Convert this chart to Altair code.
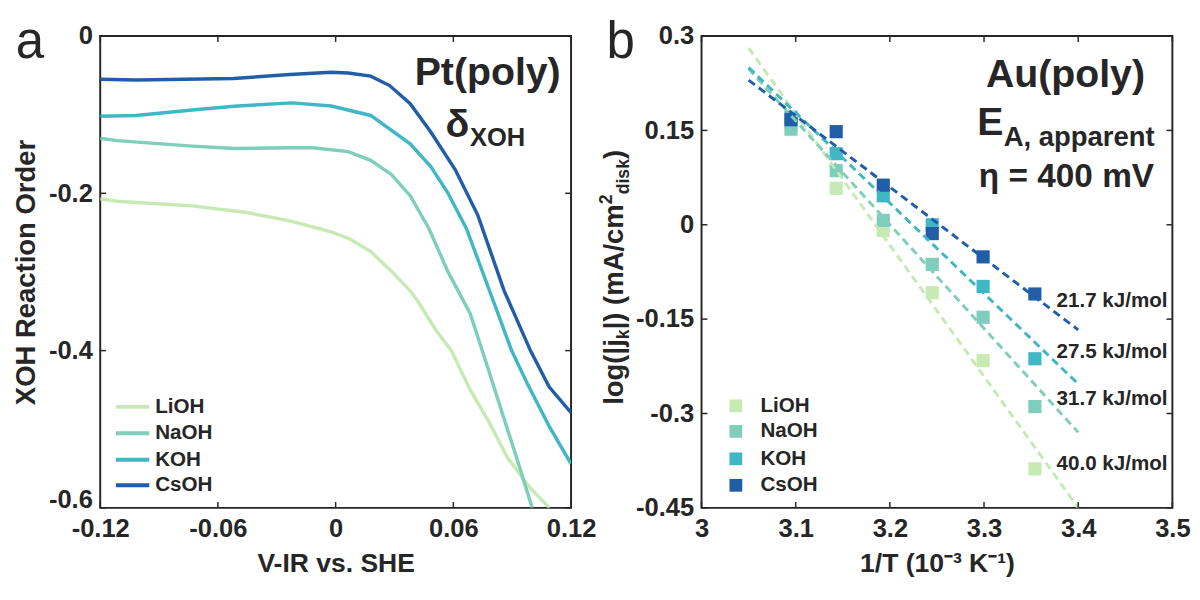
import altair as alt
import pandas as pd

FONT = "Liberation Sans"
INK = "#262626"

series = ["LiOH", "NaOH", "KOH", "CsOH"]
colors = ["#c7e9b4", "#7fcdbb", "#41b6c4", "#225ea8"]

# ---------------- Panel a: XOH reaction order on Pt(poly) ----------------
lioh_v = [-0.12, -0.1114, -0.0731, -0.0463, -0.0233, -0.0022, 0.0073, 0.0179, 0.0284, 0.038, 0.0418, 0.0514, 0.059, 0.0686, 0.0782, 0.0878, 0.0993, 0.109]
lioh_r = [-0.207, -0.210, -0.216, -0.224, -0.235, -0.249, -0.258, -0.274, -0.299, -0.324, -0.337, -0.375, -0.400, -0.450, -0.491, -0.537, -0.575, -0.600]
naoh_v = [-0.12, -0.1114, -0.0731, -0.0511, -0.0233, -0.0118, 0.0064, 0.0179, 0.0284, 0.038, 0.0476, 0.0571, 0.0686, 0.0763, 0.0859, 0.0935, 0.1002]
naoh_r = [-0.130, -0.133, -0.140, -0.143, -0.142, -0.142, -0.147, -0.158, -0.176, -0.203, -0.245, -0.299, -0.353, -0.412, -0.487, -0.546, -0.600]
koh_v = [-0.12, -0.1018, -0.0731, -0.0501, -0.0223, -0.0022, 0.0179, 0.038, 0.0485, 0.0571, 0.0667, 0.0801, 0.0897, 0.0973, 0.1088, 0.12]
koh_r = [-0.102, -0.101, -0.094, -0.089, -0.085, -0.089, -0.101, -0.137, -0.166, -0.199, -0.245, -0.335, -0.400, -0.440, -0.496, -0.544]
csoh_v = [-0.12, -0.1018, -0.052, -0.0233, -0.0022, 0.0064, 0.0179, 0.0275, 0.038, 0.0485, 0.061, 0.0725, 0.0859, 0.0993, 0.1088, 0.12]
csoh_r = [-0.055, -0.056, -0.054, -0.049, -0.046, -0.047, -0.051, -0.063, -0.086, -0.122, -0.170, -0.228, -0.324, -0.400, -0.446, -0.479]

a_xticks = [-0.12, -0.06, 0, 0.06, 0.12]
a_yticks = [-0.6, -0.4, -0.2, 0]

# ---------------- Panel b: Arrhenius plot on Au(poly) ----------------
inv_T = [3.095, 3.143, 3.193, 3.245, 3.299, 3.354]
lioh_j = [0.160, 0.058, -0.009, -0.108, -0.216, -0.388]
naoh_j = [0.152, 0.086, 0.007, -0.063, -0.147, -0.289]
koh_j = [0.171, 0.113, 0.046, 0.000, -0.098, -0.213]
csoh_j = [0.167, 0.148, 0.063, -0.014, -0.051, -0.110]

fit_x = [3.05, 3.40]
lioh_fit = [0.281, -0.450]
naoh_fit = [0.248, -0.330]
koh_fit = [0.250, -0.253]
csoh_fit = [0.230, -0.167]

ea_labels = ["21.7 kJ/mol", "27.5 kJ/mol", "31.7 kJ/mol", "40.0 kJ/mol"]
ea_x = [3.377, 3.377, 3.377, 3.377]
ea_y = [-0.121, -0.202, -0.277, -0.381]

b_xticks = [3, 3.1, 3.2, 3.3, 3.4, 3.5]
b_yticks = [-0.45, -0.3, -0.15, 0, 0.15, 0.3]

W, H = 480, 481
TICK = 6

color_enc = alt.Color("series:N", scale=alt.Scale(domain=series, range=colors), legend=None)


def frame(pairs):
    rows = []
    for name, xs, ys in pairs:
        for i, (xv, yv) in enumerate(zip(xs, ys)):
            rows.append({"series": name, "x": xv, "y": yv, "i": i})
    return pd.DataFrame(rows)


def txt(s, x, y, size, weight="bold", align="left", baseline="alphabetic", angle=0):
    return alt.Chart(pd.DataFrame({"s": [s]})).mark_text(
        font=FONT, fontSize=size, fontWeight=weight, align=align,
        baseline=baseline, angle=angle, color=INK
    ).encode(text="s:N", x=alt.value(x), y=alt.value(y))


def ticks(xticks, yticks, X, Y):
    xt = pd.DataFrame({"x": xticks})
    yt = pd.DataFrame({"y": yticks})
    rule = dict(color=INK, strokeWidth=1.5)
    return [
        alt.Chart(xt).mark_rule(**rule).encode(x=X, y=alt.value(H), y2=alt.value(H - TICK)),
        alt.Chart(xt).mark_rule(**rule).encode(x=X, y=alt.value(0), y2=alt.value(TICK)),
        alt.Chart(yt).mark_rule(**rule).encode(y=Y, x=alt.value(0), x2=alt.value(TICK)),
        alt.Chart(yt).mark_rule(**rule).encode(y=Y, x=alt.value(W), x2=alt.value(W - TICK)),
    ]


# ---- panel a
Xa = alt.X("x:Q", scale=alt.Scale(domain=[-0.12, 0.12], nice=False, zero=False),
           axis=alt.Axis(values=a_xticks, labelExpr="datum.value + ''", title="V-IR vs. SHE",
                         titlePadding=10))
Ya = alt.Y("y:Q", scale=alt.Scale(domain=[-0.6, 0], nice=False, zero=False),
           axis=alt.Axis(values=a_yticks, labelExpr="datum.value + ''", title="XOH Reaction Order",
                         titlePadding=8, titleFontSize=28,
                         labelBaseline={"condition": {"test": "datum.value < -0.5", "value": "alphabetic"},
                                        "value": "middle"}))

a_df = frame([("LiOH", lioh_v, lioh_r), ("NaOH", naoh_v, naoh_r),
              ("KOH", koh_v, koh_r), ("CsOH", csoh_v, csoh_r)])

a_lines = alt.Chart(a_df).mark_line(strokeWidth=3.5, clip=True).encode(
    x=Xa, y=Ya, color=color_enc, detail="series:N", order="i:Q")

a_layers = [a_lines] + ticks(a_xticks, a_yticks, Xa, Ya)

leg_a_y = [378, 405, 432, 458]
for k, s in enumerate(series):
    a_layers.append(alt.Chart(pd.DataFrame({"s": [s]})).mark_rule(color=colors[k], strokeWidth=4).encode(
        x=alt.value(16), x2=alt.value(50), y=alt.value(leg_a_y[k])))
    a_layers.append(txt(s, 56, leg_a_y[k], 21, baseline="middle"))

a_layers += [
    txt("Pt(poly)", 395, 50, 40, align="center"),
    txt("δ", 352, 103, 40),
    txt("XOH", 377, 112, 26),
    txt("a", -86, 22, 52, weight="normal"),
]
panel_a = alt.layer(*a_layers).properties(width=W, height=H)

# ---- panel b
Xb = alt.X("x:Q", scale=alt.Scale(domain=[3, 3.5], nice=False, zero=False),
           axis=alt.Axis(values=b_xticks, labelExpr="datum.value + ''",
                         title="1/T (10⁻³ K⁻¹)", titlePadding=10))
Yb = alt.Y("y:Q", scale=alt.Scale(domain=[-0.45, 0.3], nice=False, zero=False),
           axis=alt.Axis(values=b_yticks, labelExpr="datum.value + ''", title=None))

b_pts = frame([("LiOH", inv_T, lioh_j), ("NaOH", inv_T, naoh_j),
               ("KOH", inv_T, koh_j), ("CsOH", inv_T, csoh_j)])
b_fit = frame([("LiOH", fit_x, lioh_fit), ("NaOH", fit_x, naoh_fit),
               ("KOH", fit_x, koh_fit), ("CsOH", fit_x, csoh_fit)])
ea_df = pd.DataFrame({"x": ea_x, "y": ea_y, "t": ea_labels})

b_points = alt.Chart(b_pts).mark_square(size=180, opacity=1).encode(x=Xb, y=Yb, color=color_enc)
b_lines = alt.Chart(b_fit).mark_line(strokeWidth=3, strokeDash=[8, 5], clip=True).encode(
    x=Xb, y=Yb, color=color_enc, detail="series:N", order="i:Q")
b_ea = alt.Chart(ea_df).mark_text(font=FONT, fontSize=21, fontWeight="bold", align="left",
                                  baseline="middle", color=INK).encode(x=Xb, y=Yb, text="t:N")

b_layers = [b_points, b_lines, b_ea] + ticks(b_xticks, b_yticks, Xb, Yb)

leg_b_y = [377, 403, 431, 458]
for k, s in enumerate(series):
    b_layers.append(alt.Chart(pd.DataFrame({"s": [s]})).mark_square(size=170, opacity=1, color=colors[k]).encode(
        x=alt.value(35), y=alt.value(leg_b_y[k])))
    b_layers.append(txt(s, 60, leg_b_y[k], 21, baseline="middle"))

# rotated y title with sub/superscripts: log(|j_k|) (mA/cm^2_disk)
BIG, SMALL = 28, 18
bx = -80
segs = [("log(|j", BIG, 0, 2.391), ("k", SMALL, 6, 0.556), ("|) (mA/cm", BIG, 0, 4.558),
        ("2", SMALL, -11, 0.556), ("disk", SMALL, 6, 2.001), (")", BIG, 0, 0.333)]
total = sum(sz * em for _, sz, _, em in segs)
ypos = 246 + total / 2
for s, sz, dx, em in segs:
    b_layers.append(txt(s, bx + dx, ypos, sz, angle=270))
    ypos -= sz * em

b_layers += [
    txt("Au(poly)", 371, 52, 40, align="center"),
    txt("E", 281, 101, 40),
    txt("A, apparent", 308, 112, 28),
    txt("η = 400 mV", 372, 154, 34, align="center"),
    txt("b", -97, 22, 52, weight="normal"),
]
panel_b = alt.layer(*b_layers).properties(width=W, height=H)

chart = alt.hconcat(panel_a, panel_b, spacing=0).properties(
    padding={"left": 4, "top": 2, "right": 0, "bottom": 0}
).configure_view(stroke=INK, strokeWidth=2).configure_axis(
    labelFont=FONT, labelFontSize=26, labelFontWeight="bold", labelColor=INK,
    titleFont=FONT, titleFontSize=27, titleFontWeight="bold", titleColor=INK,
    grid=False, domain=False, ticks=False, tickSize=0, labelPadding=8,
    labelFlush=False, labelOverlap=False
)

chart.save("out.html", embed_options={"renderer": "svg", "actions": False})
